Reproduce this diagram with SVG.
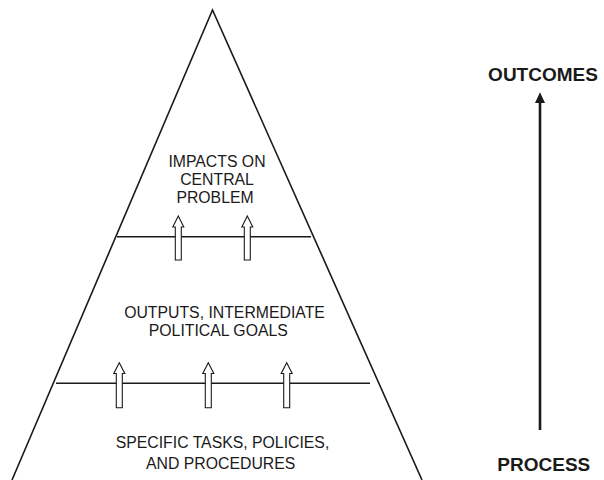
<svg xmlns="http://www.w3.org/2000/svg" width="604" height="480" viewBox="0 0 604 480">
  <style>
    .edge { fill: none; stroke: #1a1a1a; stroke-width: 1.6; }
    .tier { fill: none; stroke: #1a1a1a; stroke-width: 1.6; }
    .lift { fill: #ffffff; stroke: #1a1a1a; stroke-width: 1.1; stroke-linejoin: miter; }
    .lbl { font-family: "Liberation Sans", Arial, sans-serif; font-size: 15.8px; fill: #1a1a1a; text-anchor: middle; }
    .axis { font-family: "Liberation Sans", Arial, sans-serif; font-size: 19px; font-weight: bold; fill: #1a1a1a; text-anchor: middle; }
  </style>
  <rect width="604" height="480" fill="#ffffff"/>

  <!-- pyramid outline -->
  <g id="pyramid">
    <polyline class="edge" points="12,480 212.5,10 422,480"/>
  </g>

  <!-- tier divisions and upward links -->
  <g id="connectors">
    <line class="tier" x1="117" y1="236.8" x2="311" y2="236.8"/>
    <line class="tier" x1="56" y1="383.3" x2="370" y2="383.3"/>
    <path class="lift" d="M178.3,216 L183.8,227 L181.3,227 L181.3,260 L175.3,260 L175.3,227 L172.8,227 Z"/>
    <path class="lift" d="M247.3,216 L252.8,227 L250.3,227 L250.3,260 L244.3,260 L244.3,227 L241.8,227 Z"/>
    <path class="lift" d="M119.3,362.7 L124.8,373.5 L122.3,373.5 L122.3,407.7 L116.3,407.7 L116.3,373.5 L113.8,373.5 Z"/>
    <path class="lift" d="M208.3,362.7 L213.8,373.5 L211.3,373.5 L211.3,407.7 L205.3,407.7 L205.3,373.5 L202.8,373.5 Z"/>
    <path class="lift" d="M286.7,362.7 L292.2,373.5 L289.7,373.5 L289.7,407.7 L283.7,407.7 L283.7,373.5 L281.2,373.5 Z"/>
    <!-- process-to-outcomes axis -->
    <line x1="540" y1="430" x2="540" y2="101" stroke="#1a1a1a" stroke-width="2.6"/>
    <polygon points="540,92.3 545,103 535,103" fill="#1a1a1a"/>
  </g>

  <g id="tier-top">
    <text class="lbl" x="217" y="167">IMPACTS ON</text>
    <text class="lbl" x="217" y="185">CENTRAL</text>
    <text class="lbl" x="215" y="203.3">PROBLEM</text>
  </g>

  <g id="tier-middle">
    <text class="lbl" x="224.5" y="318.3">OUTPUTS, INTERMEDIATE</text>
    <text class="lbl" x="218.3" y="335.7">POLITICAL GOALS</text>
  </g>

  <g id="tier-base">
    <text class="lbl" x="222.5" y="448.3">SPECIFIC TASKS, POLICIES,</text>
    <text class="lbl" x="220.7" y="469.3">AND PROCEDURES</text>
  </g>

  <g id="outcomes">
    <text class="axis" x="543" y="80.7">OUTCOMES</text>
  </g>
  <g id="process">
    <text class="axis" x="543.8" y="470.7">PROCESS</text>
  </g>
</svg>
